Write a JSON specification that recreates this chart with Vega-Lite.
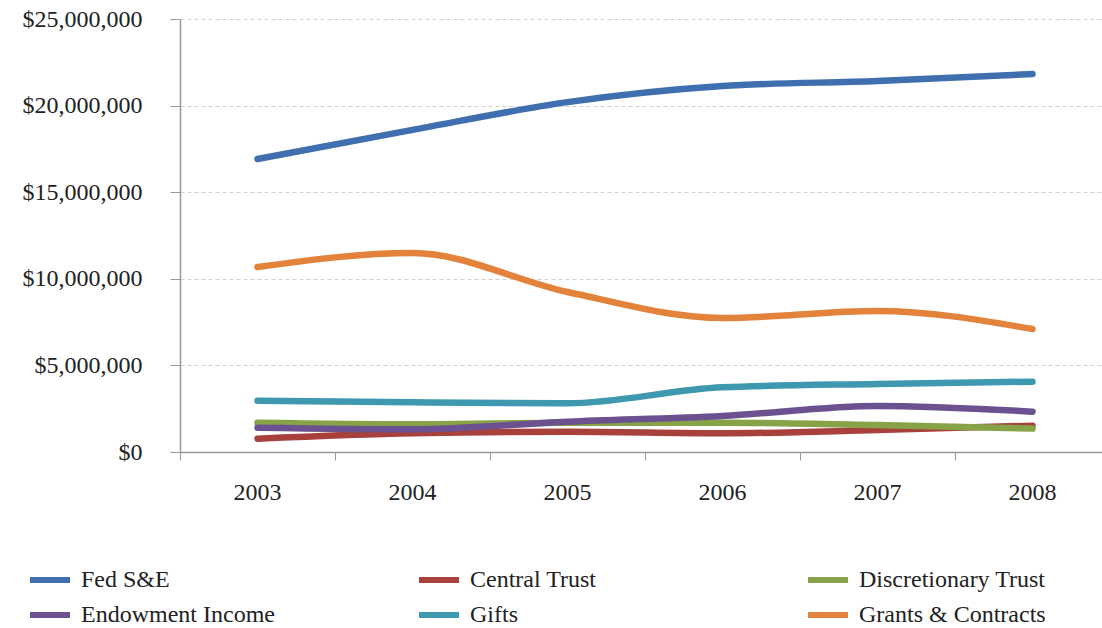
{
  "$schema": "https://vega.github.io/schema/vega-lite/v6.json",
  "width": 930,
  "height": 433,
  "autosize": {"type": "none"},
  "padding": {"left": 180, "top": 19, "right": 0, "bottom": 176},
  "background": "white",
  "config": {
    "view": {"stroke": null},
    "font": "Liberation Serif"
  },
  "data": {
    "values": [
      {"year": "2003", "series": "Fed S&E", "value": 16920000},
      {"year": "2004", "series": "Fed S&E", "value": 18600000},
      {"year": "2005", "series": "Fed S&E", "value": 20200000},
      {"year": "2006", "series": "Fed S&E", "value": 21130000},
      {"year": "2007", "series": "Fed S&E", "value": 21420000},
      {"year": "2008", "series": "Fed S&E", "value": 21820000},
      {"year": "2003", "series": "Central Trust", "value": 770000},
      {"year": "2004", "series": "Central Trust", "value": 1080000},
      {"year": "2005", "series": "Central Trust", "value": 1170000},
      {"year": "2006", "series": "Central Trust", "value": 1080000},
      {"year": "2007", "series": "Central Trust", "value": 1270000},
      {"year": "2008", "series": "Central Trust", "value": 1520000},
      {"year": "2003", "series": "Discretionary Trust", "value": 1690000},
      {"year": "2004", "series": "Discretionary Trust", "value": 1600000},
      {"year": "2005", "series": "Discretionary Trust", "value": 1690000},
      {"year": "2006", "series": "Discretionary Trust", "value": 1690000},
      {"year": "2007", "series": "Discretionary Trust", "value": 1560000},
      {"year": "2008", "series": "Discretionary Trust", "value": 1350000},
      {"year": "2003", "series": "Endowment Income", "value": 1400000},
      {"year": "2004", "series": "Endowment Income", "value": 1310000},
      {"year": "2005", "series": "Endowment Income", "value": 1750000},
      {"year": "2006", "series": "Endowment Income", "value": 2080000},
      {"year": "2007", "series": "Endowment Income", "value": 2660000},
      {"year": "2008", "series": "Endowment Income", "value": 2330000},
      {"year": "2003", "series": "Gifts", "value": 2960000},
      {"year": "2004", "series": "Gifts", "value": 2870000},
      {"year": "2005", "series": "Gifts", "value": 2810000},
      {"year": "2006", "series": "Gifts", "value": 3740000},
      {"year": "2007", "series": "Gifts", "value": 3930000},
      {"year": "2008", "series": "Gifts", "value": 4060000},
      {"year": "2003", "series": "Grants & Contracts", "value": 10680000},
      {"year": "2004", "series": "Grants & Contracts", "value": 11490000},
      {"year": "2005", "series": "Grants & Contracts", "value": 9240000},
      {"year": "2006", "series": "Grants & Contracts", "value": 7740000},
      {"year": "2007", "series": "Grants & Contracts", "value": 8140000},
      {"year": "2008", "series": "Grants & Contracts", "value": 7100000}
    ]
  },
  "mark": {"type": "line", "interpolate": "monotone", "strokeWidth": 6.5, "strokeCap": "round"},
  "encoding": {
    "x": {
      "field": "year",
      "type": "ordinal",
      "scale": {"type": "band", "paddingInner": 0, "paddingOuter": 0},
      "axis": {
        "title": null,
        "labelAngle": 0,
        "bandPosition": 0,
        "labelFontSize": 24,
        "labelColor": "#222",
        "labelPadding": 20,
        "tickSize": 8,
        "tickColor": "#999",
        "domainColor": "#999",
        "domainWidth": 1.5,
        "grid": false
      }
    },
    "y": {
      "field": "value",
      "type": "quantitative",
      "scale": {"domain": [0, 25000000]},
      "axis": {
        "title": null,
        "values": [0, 5000000, 10000000, 15000000, 20000000, 25000000],
        "format": "$,.0f",
        "labelFontSize": 24,
        "labelColor": "#222",
        "labelPadding": 28,
        "tickSize": 10,
        "tickColor": "#999",
        "domainColor": "#999",
        "domainWidth": 1.5,
        "grid": true,
        "gridColor": "#d0d0d0",
        "gridDash": [4, 3]
      }
    },
    "color": {
      "field": "series",
      "type": "nominal",
      "sort": ["Fed S&E", "Central Trust", "Discretionary Trust", "Endowment Income", "Gifts", "Grants & Contracts"],
      "scale": {
        "domain": ["Fed S&E", "Central Trust", "Discretionary Trust", "Endowment Income", "Gifts", "Grants & Contracts"],
        "range": ["#3f6fae", "#a8403c", "#86a447", "#6c5190", "#3d98b0", "#e3823a"]
      },
      "legend": {
        "title": null,
        "orient": "none",
        "legendX": -153,
        "legendY": 538,
        "direction": "horizontal",
        "columns": 3,
        "gridAlign": "all",
        "columnPadding": 132,
        "rowPadding": -6,
        "symbolType": "stroke",
        "symbolSize": 1600,
        "symbolStrokeWidth": 6,
        "labelFontSize": 24,
        "labelLimit": 400,
        "labelColor": "#222",
        "labelOffset": 8
      }
    }
  }
}
